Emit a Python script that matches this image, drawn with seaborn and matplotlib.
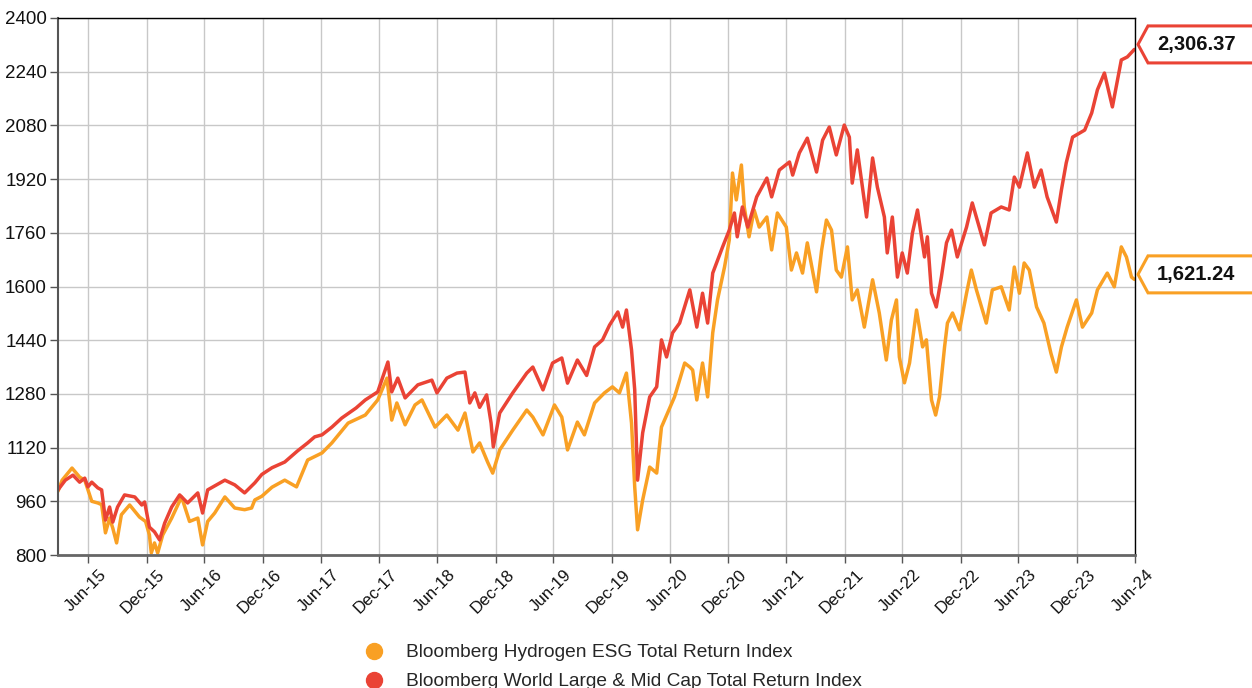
import matplotlib
matplotlib.use("Agg")
import matplotlib.pyplot as plt
import matplotlib.dates as mdates
import matplotlib.transforms as mtrans
import seaborn as sns
import pandas as pd
from matplotlib.patches import Polygon
from matplotlib.lines import Line2D

# ---------------- data ----------------
hydrogen_name = "Bloomberg Hydrogen ESG Total Return Index"
world_name = "Bloomberg World Large & Mid Cap Total Return Index"

hydrogen_dates = [
    "2015-03-28", "2015-04-10", "2015-05-11", "2015-06-04", "2015-06-20", "2015-06-30", "2015-07-12",
    "2015-07-31", "2015-08-12", "2015-08-24", "2015-09-06", "2015-09-16", "2015-09-28", "2015-10-13",
    "2015-11-08", "2015-12-09", "2015-12-28", "2016-01-09", "2016-01-15", "2016-01-25", "2016-02-04",
    "2016-02-20", "2016-03-19", "2016-04-19", "2016-05-14", "2016-06-09", "2016-06-24", "2016-07-10",
    "2016-08-01", "2016-09-02", "2016-10-03", "2016-11-03", "2016-11-25", "2016-12-05", "2016-12-27",
    "2017-01-28", "2017-03-09", "2017-04-15", "2017-05-20", "2017-07-04", "2017-08-04", "2017-09-24",
    "2017-11-17", "2017-12-26", "2018-01-24", "2018-02-08", "2018-02-24", "2018-03-22", "2018-04-22",
    "2018-05-14", "2018-06-24", "2018-07-31", "2018-09-04", "2018-09-26", "2018-10-21", "2018-11-11",
    "2018-12-06", "2018-12-22", "2019-01-13", "2019-02-23", "2019-04-08", "2019-04-27", "2019-05-29",
    "2019-07-04", "2019-07-27", "2019-08-14", "2019-09-14", "2019-10-06", "2019-11-07", "2019-12-08",
    "2020-01-02", "2020-01-24", "2020-02-15", "2020-03-02", "2020-03-12", "2020-03-21", "2020-04-06",
    "2020-04-28", "2020-05-20", "2020-06-04", "2020-06-23", "2020-07-15", "2020-08-16", "2020-09-01",
    "2020-09-10", "2020-09-23", "2020-10-11", "2020-10-27", "2020-11-12", "2020-11-27", "2020-12-19",
    "2021-01-03", "2021-01-13", "2021-01-25", "2021-02-10", "2021-02-19", "2021-03-06", "2021-03-22",
    "2021-04-07", "2021-05-01", "2021-05-16", "2021-06-03", "2021-07-01", "2021-07-17", "2021-08-02",
    "2021-08-21", "2021-09-05", "2021-10-04", "2021-10-20", "2021-11-04", "2021-11-20", "2021-12-05",
    "2021-12-21", "2022-01-09", "2022-01-24", "2022-02-09", "2022-03-03", "2022-03-29", "2022-04-19",
    "2022-05-11", "2022-05-27", "2022-06-12", "2022-06-21", "2022-07-07", "2022-07-23", "2022-08-14",
    "2022-09-02", "2022-09-14", "2022-09-30", "2022-10-13", "2022-10-25", "2022-11-10", "2022-11-19",
    "2022-12-05", "2022-12-27", "2023-01-18", "2023-02-02", "2023-02-18", "2023-03-21", "2023-04-09",
    "2023-05-07", "2023-06-01", "2023-06-17", "2023-07-03", "2023-07-18", "2023-08-03", "2023-08-26",
    "2023-09-18", "2023-10-10", "2023-10-27", "2023-11-12", "2023-11-30", "2023-12-29", "2024-01-17",
    "2024-02-15", "2024-03-04", "2024-04-04", "2024-04-26", "2024-05-18", "2024-06-03", "2024-06-19",
    "2024-06-28",
]
hydrogen_values = [
    990, 1023, 1059, 1032, 1023, 994, 960,
    955, 950, 866, 910, 880, 836, 920,
    949, 913, 900, 860, 806, 836, 806,
    860, 910, 973, 900, 910, 830, 900,
    925, 973, 940, 935, 940, 964, 975,
    1002, 1023, 1003, 1083, 1104, 1134, 1193,
    1217, 1262, 1327, 1202, 1253, 1188, 1247,
    1262, 1181, 1217, 1172, 1223, 1107, 1134,
    1077, 1044, 1113, 1172, 1232, 1211, 1158,
    1247, 1211, 1113, 1196, 1158, 1253, 1283,
    1301, 1283, 1342, 1193, 1003, 875, 964,
    1062, 1044, 1181, 1223, 1271, 1372, 1360,
    1351, 1262, 1372, 1271, 1462, 1560, 1658,
    1739, 1938, 1858, 1962, 1837, 1748, 1828,
    1777, 1807, 1709, 1819, 1777, 1649, 1700,
    1640, 1730, 1584, 1709, 1798, 1768, 1649,
    1628, 1718, 1560, 1590, 1479, 1620, 1521,
    1381, 1500, 1560, 1390, 1313, 1372, 1530,
    1420, 1441, 1262, 1217, 1271, 1420, 1491,
    1521, 1471, 1580, 1649, 1590, 1491, 1590,
    1599, 1530, 1658, 1580, 1670, 1649, 1539,
    1491, 1401, 1345, 1420, 1479, 1560, 1479,
    1521, 1590, 1640, 1599, 1718, 1688, 1628,
    1621.24,
]

world_dates = [
    "2015-03-28", "2015-04-20", "2015-05-14", "2015-06-04", "2015-06-20", "2015-06-30", "2015-07-12",
    "2015-07-31", "2015-08-12", "2015-08-24", "2015-09-06", "2015-09-16", "2015-10-01", "2015-10-23",
    "2015-11-24", "2015-12-16", "2015-12-25", "2016-01-09", "2016-01-25", "2016-02-10", "2016-02-26",
    "2016-03-19", "2016-04-13", "2016-05-08", "2016-06-09", "2016-06-24", "2016-07-10", "2016-09-02",
    "2016-10-03", "2016-11-03", "2016-12-05", "2016-12-27", "2017-01-28", "2017-03-09", "2017-04-18",
    "2017-05-20", "2017-06-11", "2017-07-04", "2017-08-04", "2017-09-04", "2017-10-19", "2017-11-17",
    "2017-12-26", "2018-01-27", "2018-02-08", "2018-02-27", "2018-03-22", "2018-05-01", "2018-06-14",
    "2018-06-30", "2018-07-31", "2018-09-01", "2018-09-26", "2018-10-11", "2018-10-27", "2018-11-11",
    "2018-12-03", "2018-12-17", "2018-12-24", "2019-01-13", "2019-02-23", "2019-04-08", "2019-04-27",
    "2019-05-29", "2019-06-28", "2019-07-27", "2019-08-14", "2019-09-14", "2019-10-13", "2019-11-07",
    "2019-12-02", "2019-12-24", "2020-01-19", "2020-02-03", "2020-02-15", "2020-03-02", "2020-03-12",
    "2020-03-21", "2020-04-06", "2020-04-28", "2020-05-20", "2020-06-04", "2020-06-20", "2020-07-09",
    "2020-07-31", "2020-09-01", "2020-09-23", "2020-10-11", "2020-10-27", "2020-11-12", "2020-12-13",
    "2021-01-03", "2021-01-19", "2021-01-28", "2021-02-13", "2021-03-02", "2021-03-30", "2021-05-01",
    "2021-05-16", "2021-06-09", "2021-07-11", "2021-07-21", "2021-08-11", "2021-09-05", "2021-10-04",
    "2021-10-23", "2021-11-13", "2021-12-05", "2021-12-30", "2022-01-15", "2022-01-24", "2022-02-09",
    "2022-03-10", "2022-03-29", "2022-04-13", "2022-05-05", "2022-05-14", "2022-05-30", "2022-06-15",
    "2022-06-30", "2022-07-16", "2022-08-01", "2022-08-17", "2022-09-08", "2022-09-17", "2022-09-30",
    "2022-10-15", "2022-10-31", "2022-11-16", "2022-12-02", "2022-12-20", "2023-01-18", "2023-02-05",
    "2023-03-15", "2023-04-05", "2023-05-07", "2023-06-01", "2023-06-17", "2023-07-03", "2023-07-28",
    "2023-08-19", "2023-09-09", "2023-09-28", "2023-10-27", "2023-11-12", "2023-11-27", "2023-12-17",
    "2024-01-08", "2024-01-24", "2024-02-15", "2024-03-04", "2024-03-26", "2024-04-20", "2024-05-18",
    "2024-06-06", "2024-06-28",
]
world_values = [
    994, 1023, 1038, 1017, 1029, 1003, 1017,
    1000, 994, 904, 943, 898, 943, 979,
    973, 949, 958, 883, 869, 845, 895,
    943, 979, 955, 985, 925, 994, 1023,
    1009, 985, 1015, 1040, 1060, 1077, 1110,
    1134, 1152, 1158, 1181, 1208, 1238, 1262,
    1286, 1375, 1286, 1327, 1268, 1307, 1321,
    1283, 1327, 1342, 1345, 1253, 1283, 1240,
    1277, 1193, 1122, 1223, 1283, 1342, 1360,
    1292, 1372, 1387, 1312, 1381, 1335, 1420,
    1441, 1485, 1524, 1479, 1530, 1411, 1292,
    1023, 1164, 1271, 1301, 1441, 1390, 1462,
    1491, 1590, 1479, 1580, 1491, 1640, 1718,
    1768, 1819, 1748, 1837, 1777, 1867, 1923,
    1867, 1947, 1971, 1932, 1998, 2042, 1941,
    2036, 2075, 1992, 2081, 2045, 1908, 2007,
    1807, 1983, 1896, 1807, 1700, 1807, 1628,
    1700, 1640, 1759, 1828, 1688, 1748, 1580,
    1539, 1628, 1730, 1768, 1688, 1777, 1849,
    1724, 1819, 1837, 1828, 1926, 1896, 1998,
    1896, 1947, 1867, 1792, 1888, 1968, 2045,
    2057, 2066, 2117, 2186, 2236, 2135, 2275,
    2284, 2306.37,
]

x_tick_labels = ["Jun-15", "Dec-15", "Jun-16", "Dec-16", "Jun-17", "Dec-17", "Jun-18", "Dec-18",
                 "Jun-19", "Dec-19", "Jun-20", "Dec-20", "Jun-21", "Dec-21", "Jun-22", "Dec-22",
                 "Jun-23", "Dec-23", "Jun-24"]
y_ticks = [800, 960, 1120, 1280, 1440, 1600, 1760, 1920, 2080, 2240, 2400]

ORANGE = "#F9A024"
RED = "#EA4335"

# ---------------- style ----------------
sns.set_style("white")
plt.rcParams["font.family"] = ["Liberation Sans", "DejaVu Sans"]

W, H = 1252, 688
fig = plt.figure(figsize=(W / 100, H / 100), dpi=100)
L, R, T, B = 58, 1135, 18, 555
ax = fig.add_axes([L / W, 1 - B / H, (R - L) / W, (B - T) / H])

df_h = pd.DataFrame({"date": pd.to_datetime(hydrogen_dates), "value": hydrogen_values})
df_w = pd.DataFrame({"date": pd.to_datetime(world_dates), "value": world_values})

sns.lineplot(data=df_h, x="date", y="value", color=ORANGE, linewidth=2.5, ax=ax, legend=False)
sns.lineplot(data=df_w, x="date", y="value", color=RED, linewidth=2.5, ax=ax, legend=False)

tick_dates = [pd.to_datetime(s, format="%b-%y") + pd.offsets.MonthEnd(0) for s in x_tick_labels]
ax.set_xlim(pd.Timestamp("2015-03-28"), tick_dates[-1])
ax.set_ylim(y_ticks[0], y_ticks[-1])

ax.set_xlabel("")
ax.set_ylabel("")
ax.grid(True, color="#C8C8C8", linewidth=1.0)
ax.set_axisbelow(True)
ax.tick_params(axis="both", which="both", direction="out", length=6, width=1, color="#555555", pad=2,
               bottom=True, left=True)

ax.set_yticks(y_ticks)
ax.set_yticklabels([str(v) for v in y_ticks], fontsize=13.5, color="#111111")
ax.set_xticks(tick_dates)
ax.set_xticklabels(x_tick_labels, rotation=45, ha="right", va="center",
                   rotation_mode="anchor", fontsize=12.2, color="#111111")
label_shift = mtrans.ScaledTranslation(16 / 100, -6 / 100, fig.dpi_scale_trans)
for lbl in ax.xaxis.get_majorticklabels():
    lbl.set_transform(lbl.get_transform() + label_shift)

for side in ["top", "right"]:
    ax.spines[side].set_color("#000000")
    ax.spines[side].set_linewidth(1.0)
ax.spines["left"].set_color("#555555")
ax.spines["left"].set_linewidth(1.5)
ax.spines["bottom"].set_color("#666666")
ax.spines["bottom"].set_linewidth(2.0)
for side in ax.spines:
    ax.spines[side].set_zorder(5)


# ---------------- end-value callouts ----------------
def callout(value, color):
    xr, yv = ax.transData.transform((mdates.date2num(tick_dates[-1]), value))
    yv = yv + 5
    half = 18.5
    pts = [(xr + 3, yv), (xr + 13, yv + half), (W + 10, yv + half), (W + 10, yv - half), (xr + 13, yv - half)]
    poly = Polygon(pts, closed=True, facecolor="white", edgecolor=color, linewidth=2.2,
                   transform=None, clip_on=False, zorder=10)
    fig.add_artist(poly)
    fig.text((xr + 22) / W, yv / H, f"{value:,.2f}", fontsize=14.5, fontweight="bold",
             color="#111111", ha="left", va="center", zorder=11)


callout(world_values[-1], RED)
callout(hydrogen_values[-1], ORANGE)

# ---------------- legend ----------------
handles = [Line2D([], [], marker="o", linestyle="", color=ORANGE, markersize=11.5),
           Line2D([], [], marker="o", linestyle="", color=RED, markersize=11.5)]
fig.legend(handles, [hydrogen_name, world_name], loc="upper left",
           bbox_to_anchor=(364 / W, 1 - 644 / H), frameon=False, fontsize=13.8,
           handlelength=1.0, handletextpad=1.2, labelspacing=0.6,
           borderpad=0, borderaxespad=0)

fig.savefig("out.png", dpi=100)
